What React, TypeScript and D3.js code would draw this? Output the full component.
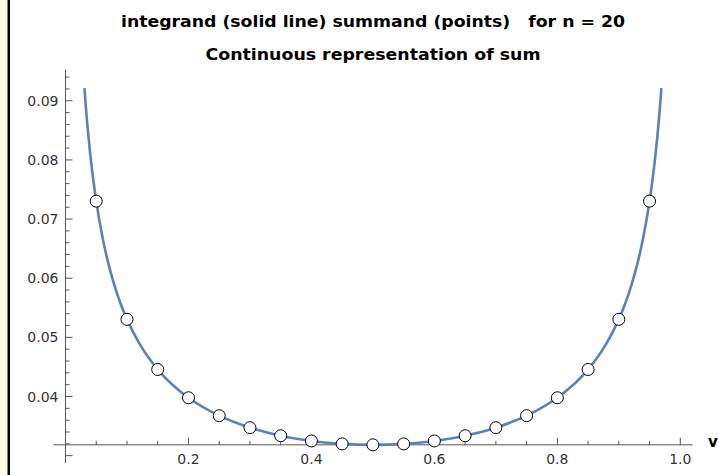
import React from "react";
import * as d3 from "d3";

const titleLines = [
  "integrand (solid line) summand (points)   for n = 20",
  "Continuous representation of sum",
];
const xLabel = "v";

// summand points (v = k/20)
const pointV = [0.05, 0.1, 0.15, 0.2, 0.25, 0.3, 0.35, 0.4, 0.45, 0.5, 0.55, 0.6, 0.65, 0.7, 0.75, 0.8, 0.85, 0.9, 0.95];
const pointY = [0.07303, 0.05305, 0.04457, 0.03979, 0.03676, 0.03473, 0.03337, 0.03249, 0.03199, 0.03183, 0.03199, 0.03249, 0.03337, 0.03473, 0.03676, 0.03979, 0.04457, 0.05305, 0.07303];

// integrand curve samples
const curveV = [0.0308, 0.033, 0.035, 0.04, 0.045, 0.05, 0.06, 0.07, 0.08, 0.09, 0.1, 0.12, 0.14, 0.16, 0.18, 0.2, 0.25, 0.3, 0.35, 0.4, 0.45, 0.5,
  0.55, 0.6, 0.65, 0.7, 0.75, 0.8, 0.82, 0.84, 0.86, 0.88, 0.9, 0.91, 0.92, 0.93, 0.94, 0.95, 0.955, 0.96, 0.965, 0.967, 0.9692];
const curveY = [0.09212, 0.0891, 0.0866, 0.08122, 0.07677, 0.07303, 0.06702, 0.06238, 0.05867, 0.05561, 0.05305, 0.04898, 0.04587, 0.04341, 0.04143, 0.03979, 0.03676, 0.03473, 0.03337, 0.03249, 0.03199, 0.03183,
  0.03199, 0.03249, 0.03337, 0.03473, 0.03676, 0.03979, 0.04143, 0.04341, 0.04587, 0.04898, 0.05305, 0.05561, 0.05867, 0.06238, 0.06702, 0.07303, 0.07677, 0.08122, 0.0866, 0.0891, 0.09212];

const xMajor = [0.2, 0.4, 0.6, 0.8, 1.0];
const xMajorLabels = ["0.2", "0.4", "0.6", "0.8", "1.0"];
const xMinor = [0.05, 0.1, 0.15, 0.25, 0.3, 0.35, 0.45, 0.5, 0.55, 0.65, 0.7, 0.75, 0.85, 0.9, 0.95];
const yMajor = [0.03, 0.04, 0.05, 0.06, 0.07, 0.08, 0.09];
const yLabels = ["", "0.04", "0.05", "0.06", "0.07", "0.08", "0.09"];
const yMinor = [0.032, 0.034, 0.036, 0.038, 0.042, 0.044, 0.046, 0.048, 0.052, 0.054, 0.056, 0.058, 0.062, 0.064, 0.066, 0.068, 0.072, 0.074, 0.076, 0.078, 0.082, 0.084, 0.086, 0.088, 0.092, 0.094];

const W = 719;
const H = 475;
const tickFont = "'DejaVu Sans', sans-serif";
const titleFont = "'DejaVu Sans', sans-serif";
const titleWidths = [504, 335];

export default function App() {
  const x = d3.scaleLinear().domain([-0.02, 1.02]).range([53.2, 692.6]);
  const y = d3.scaleLinear().domain([0.02876, 0.0952]).range([463, 70]);
  const axisY0 = y(0.03183);
  const axisX0 = x(0);

  const line = d3
    .line<number>()
    .x((_, i) => x(curveV[i]))
    .y((d) => y(d))
    .curve(d3.curveMonotoneX);

  return (
    <svg width={W} height={H} style={{ position: "absolute", left: 0, top: 0, background: "#fff" }}>
      <rect x={0} y={0} width={W} height={H} fill="#fff" />
      <rect x={0} y={0} width={8} height={H} fill="#fffde6" />
      <rect x={7.5} y={0} width={2.5} height={H} fill="#000" />

      {titleLines.map((t, i) => (
        <text
          key={i}
          x={373 - titleWidths[i] / 2}
          y={27 + i * 32.5}
          textLength={titleWidths[i]}
          lengthAdjust="spacingAndGlyphs"
          xmlSpace="preserve"
          style={{ whiteSpace: "pre" }}
          fontFamily={titleFont}
          fontWeight="bold"
          fontSize={16}
          fill="#000"
        >
          {t}
        </text>
      ))}

      {/* axes */}
      <line x1={x(-0.02)} x2={x(1.02)} y1={axisY0} y2={axisY0} stroke="#555" strokeWidth={1} />
      <line x1={axisX0} x2={axisX0} y1={y(0.0952)} y2={y(0.02876)} stroke="#555" strokeWidth={1} />

      {xMajor.map((v, i) => (
        <g key={"xm" + i}>
          <line x1={x(v)} x2={x(v)} y1={axisY0} y2={axisY0 - 7} stroke="#555" />
          <text x={x(v)} y={axisY0 + 19.5} textAnchor="middle" fontFamily={tickFont} fontSize={14} fill="#333">
            {xMajorLabels[i]}
          </text>
        </g>
      ))}
      {xMinor.map((v, i) => (
        <line key={"xn" + i} x1={x(v)} x2={x(v)} y1={axisY0} y2={axisY0 - 4} stroke="#555" />
      ))}
      {yMajor.map((v, i) => (
        <g key={"ym" + i}>
          <line x1={axisX0} x2={axisX0 + 7} y1={y(v)} y2={y(v)} stroke="#555" />
          <text x={axisX0 - 7} y={y(v) + 5} textAnchor="end" fontFamily={tickFont} fontSize={14} fill="#333">
            {yLabels[i]}
          </text>
        </g>
      ))}
      {yMinor.map((v, i) => (
        <line key={"yn" + i} x1={axisX0} x2={axisX0 + 4} y1={y(v)} y2={y(v)} stroke="#555" />
      ))}

      <text x={713} y={447} textAnchor="middle" fontFamily={titleFont} fontWeight="bold" fontSize={15} fill="#000">
        {xLabel}
      </text>

      <path d={line(curveY) || ""} fill="none" stroke="#5e81b5" strokeWidth={2.6} />

      {pointY.map((d, i) => (
        <circle key={"p" + i} cx={x(pointV[i])} cy={y(d)} r={6} fill="#fff" stroke="#000" strokeWidth={1} />
      ))}
    </svg>
  );
}
